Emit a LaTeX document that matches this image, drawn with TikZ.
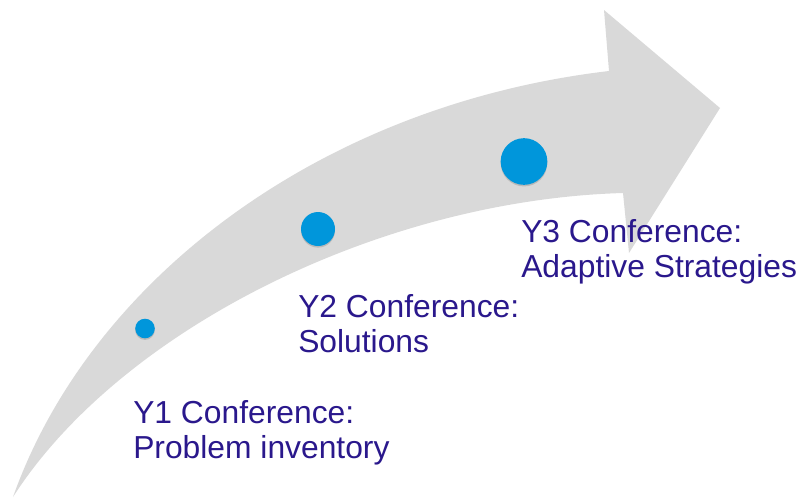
\documentclass[tikz,border=0pt]{standalone}
\usepackage{fontspec}
\setmainfont{Liberation Sans}
\usetikzlibrary{shadows}

\definecolor{arrowgray}{RGB}{217,217,217}
\definecolor{dotblue}{RGB}{0,150,219}
\definecolor{textblue}{RGB}{42,24,140}

\tikzset{
  milestone/.style={circle, fill=dotblue, inner sep=0pt,
    drop shadow={shadow xshift=0pt, shadow yshift=-1.2pt, opacity=0.35}},
  caption/.style={anchor=base west, align=left, inner sep=0pt, text=textblue,
    font=\fontsize{23.85pt}{26.25pt}\selectfont}
}

\begin{document}
\begin{tikzpicture}[x=0.75pt, y=-0.75pt]
  \useasboundingbox (0,0) rectangle (803,497);
  % sweeping arrow
  \fill[arrowgray] (13,497) .. controls (90,280) and (320,105) .. (609,71)
    -- (604,10) -- (720,108) -- (629,253) -- (623,193)
    .. controls (380,200) and (120,330) .. (13,497) -- cycle;
  % milestones
  \node[milestone, minimum size=14.7pt] (d1) at (145,328.5) {};
  \node[milestone, minimum size=25.5pt] (d2) at (318,229) {};
  \node[milestone, minimum size=35pt] (d3) at (524,161.5) {};
  % captions (base = last line)
  \node[caption] (c1) at (133,458) {Y1 Conference:\\Problem inventory};
  \node[caption] (c2) at (298,352) {Y2 Conference:\\Solutions};
  \node[caption] (c3) at (521,277) {Y3 Conference:\\Adaptive Strategies};
\end{tikzpicture}
\end{document}
